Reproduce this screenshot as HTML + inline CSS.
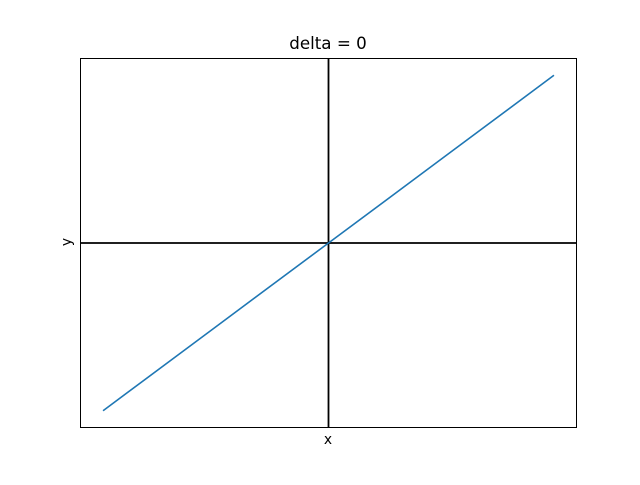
<!DOCTYPE html>
<html><head><meta charset="utf-8"><style>
html,body{margin:0;padding:0;background:#fff;}
svg text{font-family:"DejaVu Sans","Liberation Sans",sans-serif;}
</style></head><body>
<svg id="chart" width="640" height="480" viewBox="0 0 640 480" xmlns="http://www.w3.org/2000/svg">
<rect width="640" height="480" fill="#fff"/>
<text x="328" y="49" font-size="16.7" text-anchor="middle">delta = 0</text>
<text x="328" y="444" font-size="13.9" text-anchor="middle">x</text>
<text x="0" y="0" font-size="13.9" text-anchor="middle" transform="translate(71,242) rotate(-90)">y</text>
<g id="plot"></g>
<rect x="80.5" y="58.5" width="496" height="369" fill="none" stroke="#000" stroke-width="1"/>
</svg>
<script>
const xs = [-1, -0.5, 0, 0.5, 1];
const ys = [-1, -0.5, 0, 0.5, 1];
const xDomain = [-1.1, 1.1];
const yDomain = [-1.1, 1.1];
const L=80.5,R=576.5,T=58.5,B=427.5;
function sx(v){return L+(v-xDomain[0])/(xDomain[1]-xDomain[0])*(R-L);}
function sy(v){return B-(v-yDomain[0])/(yDomain[1]-yDomain[0])*(B-T);}
const NS="http://www.w3.org/2000/svg";
const g=document.getElementById('plot');
const hl=document.createElementNS(NS,'line');


hl.setAttribute('x1',L);hl.setAttribute('x2',R);hl.setAttribute('y1',sy(0));hl.setAttribute('y2',sy(0));
hl.setAttribute('stroke','#000');hl.setAttribute('stroke-width','1.8');
g.appendChild(hl);
const vl=document.createElementNS(NS,'line');


vl.setAttribute('x1',sx(0));vl.setAttribute('x2',sx(0));vl.setAttribute('y1',T);vl.setAttribute('y2',B);
vl.setAttribute('stroke','#000');vl.setAttribute('stroke-width','1.8');
g.appendChild(vl);
const p=document.createElementNS(NS,'polyline');


p.setAttribute('points',xs.map((x,i)=>sx(x)+','+sy(ys[i])).join(' '));
p.setAttribute('fill','none');p.setAttribute('stroke','#1f77b4');p.setAttribute('stroke-width','1.6');
g.appendChild(p);
</script>
</body></html>
